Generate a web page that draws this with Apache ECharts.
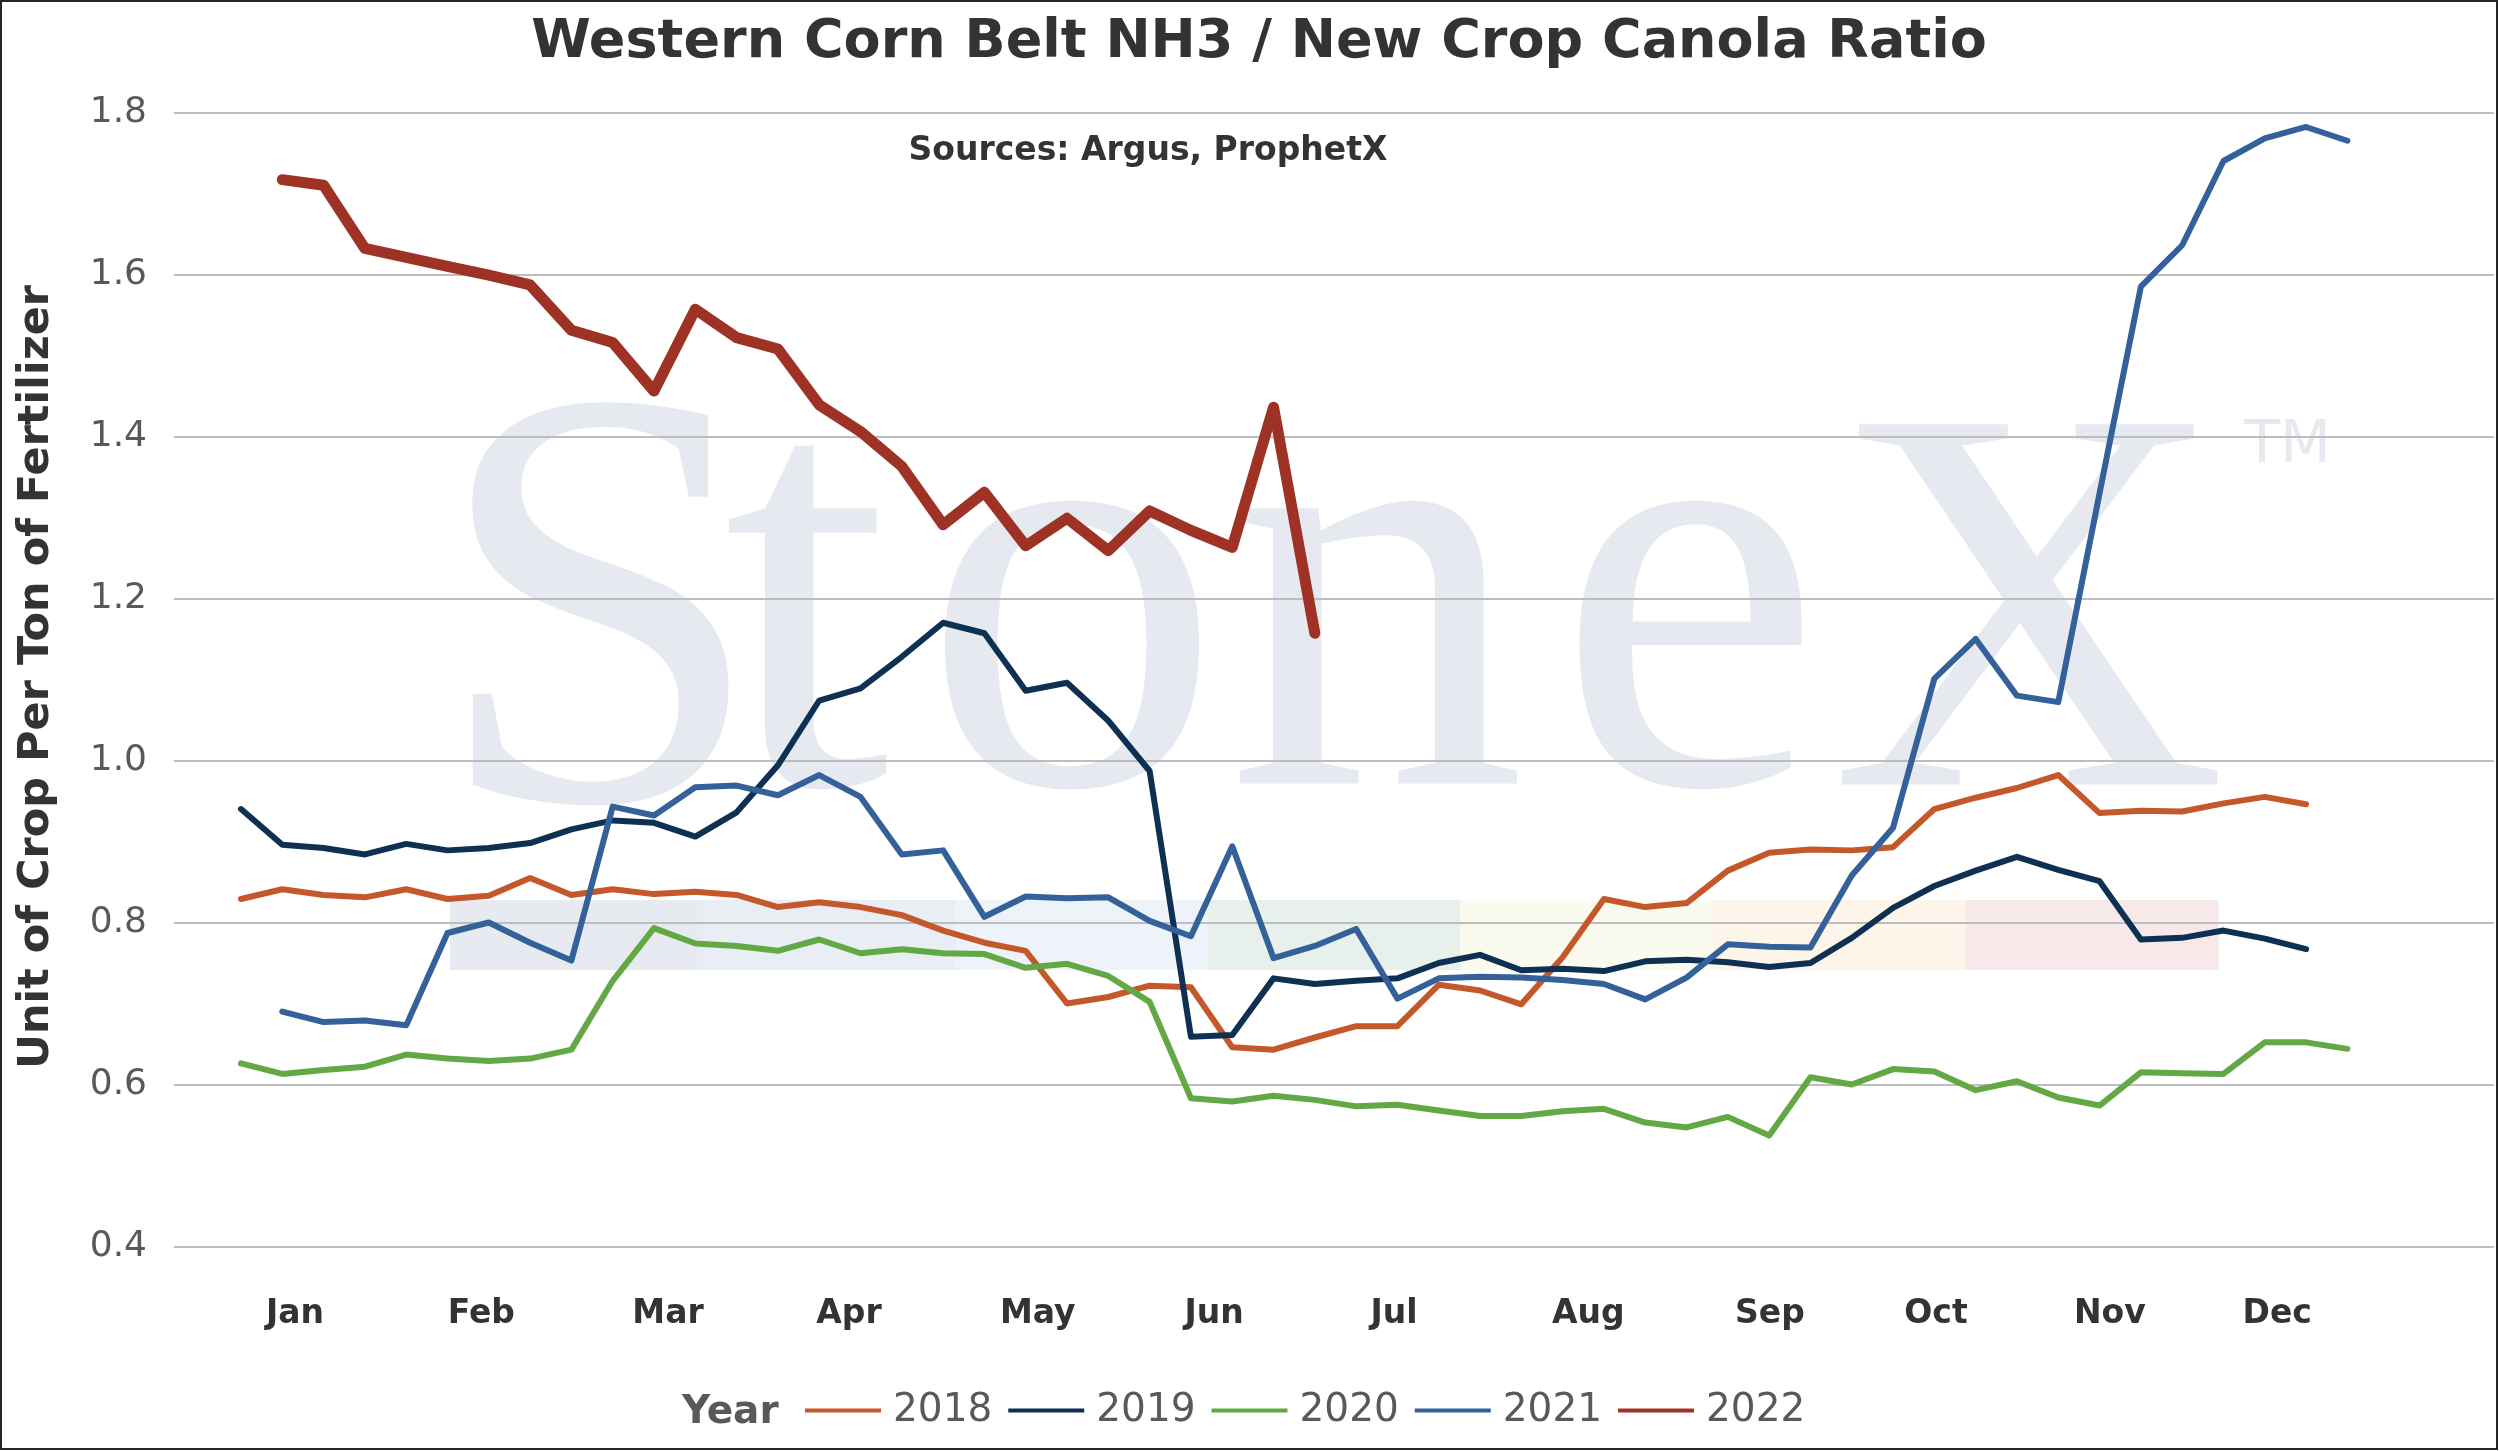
<!DOCTYPE html>
<html>
<head>
<meta charset="utf-8">
<script src="https://cdn.jsdelivr.net/npm/echarts@6/dist/echarts.min.js"></script>
<style>
html,body{margin:0;padding:0;background:#fff;}
#chart{width:2499px;height:1451px;}
</style>
</head>
<body>
<div id="chart"></div>
<script>
// ---- data (weekly points, week index 0..51) ----
const months = ['Jan','Feb','Mar','Apr','May','Jun','Jul','Aug','Sep','Oct','Nov','Dec'];
// where each month label sits, in week-index units
const monthPos = [1.31, 5.82, 10.34, 14.72, 19.29, 23.56, 27.92, 32.62, 37.02, 41.04, 45.25, 49.30];
const years = ['2018','2019','2020','2021','2022'];
const yTicks = [0.4, 0.6, 0.8, 1.0, 1.2, 1.4, 1.6, 1.8];

const y2018 = [0.829,0.841,0.834,0.831,0.841,0.829,0.833,0.855,0.834,0.841,0.835,0.838,0.834,
  0.819,0.825,0.819,0.809,0.790,0.775,0.765,0.700,0.708,0.722,0.720,0.646,0.643,
  0.658,0.672,0.672,0.723,0.716,0.699,0.757,0.829,0.819,0.824,0.864,0.886,0.890,
  0.889,0.893,0.940,0.954,0.966,0.982,0.935,0.938,0.937,0.947,0.955,0.946];
const y2019 = [0.940,0.896,0.892,0.884,0.897,0.889,0.892,0.898,0.915,0.926,0.923,0.906,0.936,
  0.994,1.074,1.089,1.128,1.170,1.157,1.086,1.096,1.049,0.987,0.659,0.661,0.731,
  0.724,0.728,0.731,0.750,0.760,0.741,0.743,0.740,0.752,0.754,0.751,0.745,0.750,
  0.781,0.818,0.845,0.864,0.881,0.865,0.851,0.779,0.781,0.790,0.780,0.767];
const y2020 = [0.626,0.613,0.618,0.622,0.637,0.632,0.629,0.632,0.643,0.728,0.793,0.774,0.771,
  0.765,0.779,0.762,0.767,0.762,0.761,0.744,0.749,0.734,0.702,0.583,0.579,0.586,
  0.581,0.573,0.575,0.568,0.561,0.561,0.567,0.570,0.553,0.547,0.560,0.537,0.609,
  0.600,0.619,0.616,0.593,0.604,0.584,0.574,0.615,0.614,0.613,0.652,0.652,0.644];
const y2021 = [null,0.690,0.677,0.679,0.673,0.787,0.800,0.775,0.753,0.943,0.932,0.967,0.969,
  0.957,0.982,0.955,0.884,0.889,0.807,0.832,0.830,0.831,0.802,0.783,0.894,0.756,
  0.771,0.792,0.706,0.731,0.733,0.732,0.729,0.724,0.705,0.732,0.773,0.770,0.769,
  0.858,0.917,1.101,1.150,1.080,1.072,1.330,1.585,1.636,1.740,1.768,1.782,1.765];
const y2022 = [null,1.717,1.710,1.632,1.621,1.610,1.599,1.587,1.531,1.516,1.456,1.557,1.522,
  1.508,1.439,1.406,1.363,1.291,1.331,1.265,1.299,1.259,1.308,1.284,1.263,1.436,1.157];

const seriesValues = [y2018, y2019, y2020, y2021, y2022];
const seriesColors = ['#C4582A', '#0E3153', '#62A845', '#34619A', '#9E3224'];
const seriesWidths = [6, 6, 6, 6, 11];

const FONT = 'DejaVu Sans';
const WM = '#e6eaf0';

function pairs(arr) {
  return arr.map((v, i) => [i, v]).filter(p => p[1] !== null);
}
function monthName(v) {
  let best = 0;
  for (let k = 1; k < monthPos.length; k++) {
    if (Math.abs(monthPos[k] - v) < Math.abs(monthPos[best] - v)) best = k;
  }
  return months[best];
}

const chart = echarts.init(document.getElementById('chart'), null, {renderer: 'canvas'});

const series = years.map((name, k) => ({
  name: name,
  type: 'line',
  xAxisIndex: 0,
  yAxisIndex: 0,
  data: pairs(seriesValues[k]),
  showSymbol: false,
  symbol: 'none',
  smooth: false,
  color: seriesColors[k],
  lineStyle: {width: seriesWidths[k], color: seriesColors[k], cap: 'round', join: 'round'},
  itemStyle: {color: seriesColors[k]},
  emphasis: {disabled: true},
  z: 3 + k
}));

// watermark bands (logo stripe)
const bandColors = ['#e7ebf1', '#e9edf4', '#eef3f9', '#e7f0ea', '#fafbee', '#fdf5e9', '#f7e9ea'];
const bandGraphics = bandColors.map((c, k) => ({
  type: 'rect', z: -10, silent: true,
  shape: {x: 450 + k * 252.6, y: 900, width: 253, height: 70},
  style: {fill: c}
}));

// watermark letters: [char, x, y(middle), size]
const letters = [['S', 432, 642, 600], ['t', 723, 626, 600], ['o', 922, 626, 600],
  ['n', 1226, 626, 600], ['e', 1556, 626, 600], ['X', 1830, 640, 550]];
const letterGraphics = letters.map(l => ({
  type: 'text', z: -9, silent: true,
  x: l[1], y: l[2],
  style: {text: l[0], font: l[3] + 'px "Liberation Serif"', fill: WM, textAlign: 'left', textVerticalAlign: 'middle'}
}));

const baseGraphics = [
  ...bandGraphics,
  ...letterGraphics,
  {type: 'text', z: -9, silent: true, x: 2244, y: 447,
    style: {text: 'TM', font: '59px "DejaVu Sans"', fill: WM, textAlign: 'left', textVerticalAlign: 'middle'}},
  {type: 'text', z: 50, silent: true, x: 1148, y: 151,
    style: {text: 'Sources: Argus, ProphetX', font: 'bold 33px "DejaVu Sans"', fill: '#333333', textAlign: 'center', textVerticalAlign: 'middle'}},
  {type: 'text', z: 50, silent: true, x: 37, y: 677, rotation: Math.PI / 2,
    style: {text: 'Unit of Crop Per Ton of Fertilizer', font: 'bold 43px "DejaVu Sans"', fill: '#333333', textAlign: 'center', textVerticalAlign: 'middle'}},
  {type: 'text', z: 50, silent: true, x: 682, y: 1413,
    style: {text: 'Year', font: 'bold 39px "DejaVu Sans"', fill: '#595959', textAlign: 'left', textVerticalAlign: 'middle'}},
  {type: 'rect', z: 60, silent: true, shape: {x: 1, y: 1, width: 2496, height: 1448},
    style: {fill: null, stroke: '#262626', lineWidth: 2}}
];

const option = {
  animation: false,
  backgroundColor: '#ffffff',
  title: {
    text: 'Western Corn Belt NH3 / New Crop Canola Ratio',
    left: 1254, top: 11, textAlign: 'center',
    textStyle: {fontFamily: FONT, fontSize: 54, fontWeight: 'bold', color: '#333333'}
  },
  legend: {
    data: years,
    left: 805, top: 1391,
    icon: 'rect', itemWidth: 76, itemHeight: 4, itemGap: 16, padding: 0,
    textStyle: {fontFamily: FONT, fontSize: 39, color: '#595959', padding: [0, 0, 0, 7]},
    selectedMode: false
  },
  grid: [
    {left: 174, right: 5, top: 112.4, bottom: 204.5, outerBoundsMode: 'none', containLabel: false}
  ],
  xAxis: [
    {type: 'value', gridIndex: 0, min: -1.622, max: 54.55,
      axisLine: {show: false}, axisTick: {show: false}, splitLine: {show: false},
      axisLabel: {show: false}}
  ],
  yAxis: [
    {type: 'value', gridIndex: 0, min: yTicks[0], max: yTicks[yTicks.length - 1], interval: 0.2,
      axisLine: {show: false}, axisTick: {show: false},
      axisLabel: {margin: 27, fontFamily: FONT, fontSize: 36, color: '#595959', formatter: v => v.toFixed(1)},
      splitLine: {show: true, lineStyle: {color: '#bdbdbd', width: 2}}}
  ],
  graphic: baseGraphics,
  series: series
};

chart.setOption(option);

// month labels placed through the x axis scale
const labelY = chart.convertToPixel({yAxisIndex: 0}, yTicks[0]) + 68;
const monthGraphics = monthPos.map(p => ({
  type: 'text', z: 50, silent: true,
  x: chart.convertToPixel({xAxisIndex: 0}, p), y: labelY,
  style: {text: monthName(p), font: 'bold 33px "DejaVu Sans"', fill: '#333333', textAlign: 'center', textVerticalAlign: 'middle'}
}));
chart.setOption({graphic: baseGraphics.concat(monthGraphics)});
</script>
</body>
</html>
